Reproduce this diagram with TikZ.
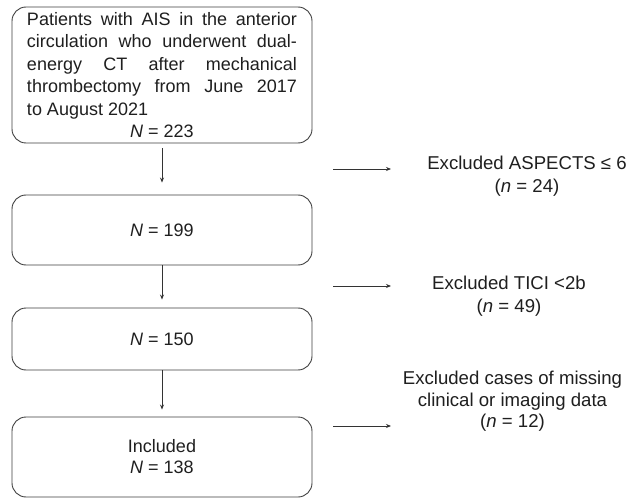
\documentclass[tikz,border=0pt]{standalone}
\usepackage{fontspec}
\setmainfont{Liberation Sans}
\usetikzlibrary{arrows.meta}
\setlength\parindent{0pt}
\hbadness=10000
\begin{document}
\begin{tikzpicture}[x=1pt,y=-1pt,
  box/.style={draw=black!75, line width=0.9pt, rounded corners=14pt, minimum width=300pt, inner sep=0pt, text=black!88, font=\fontsize{18}{22.4}\selectfont},
  arr/.style={draw=black!80, line width=0.8pt, -{Stealth[length=5pt,width=4pt]}},
  excl/.style={align=center, text=black!88, inner sep=0pt}]
\useasboundingbox[fill=white] (0,0) rectangle (627,500);
\node[box, minimum height=136pt, text width=270pt, align=justify] (b1) at (162,75)
  {Patients with AIS in the anterior\linebreak circulation who underwent dual-\linebreak energy CT after mechanical\linebreak thrombectomy from June 2017\linebreak to August 2021\par
  {\centering\textit{N} = 223\par}};
\node[box, minimum height=70pt, align=center] (b2) at (162,230) {\textit{N} = 199};
\node[box, minimum height=62pt, align=center] (b3) at (162,339) {\textit{N} = 150};
\node[box, minimum height=80pt, align=center, font=\fontsize{18}{21}\selectfont] (b4) at (162,457) {Included\\\textit{N} = 138};
\draw[arr, shorten <=5pt, shorten >=12pt] (b1) -- (b2);
\draw[arr, shorten >=8pt] (b2) -- (b3);
\draw[arr, shorten >=7pt] (b3) -- (b4);
\coordinate (h1s) at (333,169); \coordinate (h1e) at (391,169);
\coordinate (h2s) at (333,286); \coordinate (h2e) at (391,286);
\coordinate (h3s) at (333,426); \coordinate (h3e) at (391,426);
\draw[arr] (h1s) -- (h1e);
\draw[arr] (h2s) -- (h2e);
\draw[arr] (h3s) -- (h3e);
\node[excl, font=\fontsize{18.6}{23}\selectfont] (e1) at (527,176.5) {Excluded ASPECTS ≤ 6\\(\textit{n} = 24)};
\node[excl, font=\fontsize{18.6}{23}\selectfont] (e2) at (509,296.5) {Excluded TICI <2b\\(\textit{n} = 49)};
\node[excl, font=\fontsize{18.6}{21.5}\selectfont] (e3) at (512.5,401.5) {Excluded cases of missing\\clinical or imaging data\\(\textit{n} = 12)};
\end{tikzpicture}
\end{document}
